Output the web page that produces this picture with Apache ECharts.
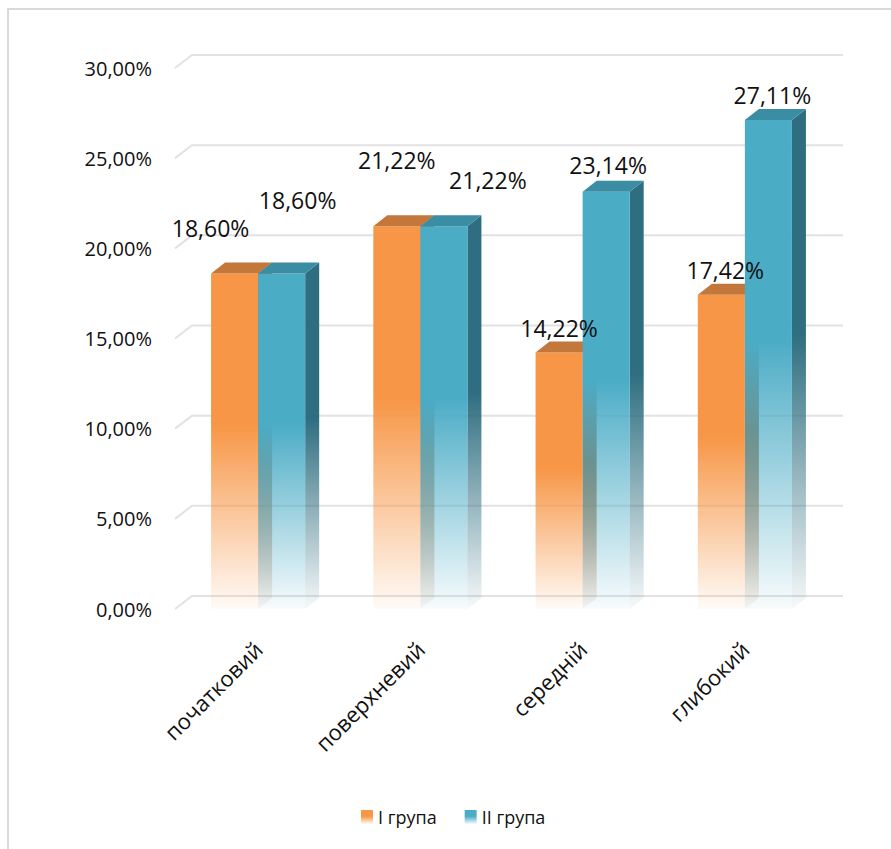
<!DOCTYPE html>
<html><head><meta charset="utf-8">
<script src="https://cdn.jsdelivr.net/npm/echarts@6/dist/echarts.min.js"></script>
<style>html,body{margin:0;padding:0;background:#fff}#c{width:891px;height:849px}</style>
</head><body><div id="c"></div>
<script>
const categories = ['початковий', 'поверхневий', 'середній', 'глибокий'];
const seriesNames = ['I група', 'II група'];
const group1 = [18.60, 21.22, 14.22, 17.42];
const group2 = [18.60, 21.22, 23.14, 27.11];
const yTicks = [0, 5, 10, 15, 20, 25, 30];

// label nudges in px (style only)
const labelNudge = [
  [[-28, -21], [-4, -41], [-4, 0], [0, 0]],
  [[12, -49], [40, -21], [-2, -2], [0, 0]]
];
const FONT = '"Open Sans", sans-serif';
const fmt = v => v.toFixed(2).replace('.', ',') + '%';
const palette = [
  { front: '#F79646', top: '#C4773B', side: '#A8602A' },
  { front: '#4BACC6', top: '#3B8DA4', side: '#2E6E80' }
];
const DX = 14, DY = 11;
function rgba(hex, a) {
  const n = parseInt(hex.slice(1), 16);
  return 'rgba(' + (n >> 16) + ',' + ((n >> 8) & 255) + ',' + (n & 255) + ',' + a + ')';
}
function grad(hex) {
  return { type: 'linear', x: 0, y: 0, x2: 0, y2: 1, colorStops: [
    { offset: 0, color: hex }, { offset: 0.45, color: hex }, { offset: 1, color: rgba(hex, 0.04) }
  ] };
}
function geom(si, api) {
  const ci = api.value(0), v = api.value(1);
  const base = api.coord([ci, 0]), top = api.coord([ci, v]);
  const band = api.size([1, 0])[0];
  const w = band * 0.29;
  const x0 = base[0] - (si === 0 ? w : 0);
  return { ci, v, w, x0, ty: top[1], by: base[1] };
}
function makeBarRender(si) {
  return function (params, api) {
    const g = geom(si, api), p = palette[si];
    const { w, x0, ty, by } = g;
    return { type: 'group', children: [
      { type: 'polygon', shape: { points: [[x0 + w, ty], [x0 + w + DX, ty - DY], [x0 + w + DX, by - DY], [x0 + w, by]] }, style: { fill: grad(p.side) } },
      { type: 'rect', shape: { x: x0, y: ty, width: w, height: by - ty }, style: { fill: grad(p.front) } },
      { type: 'polygon', shape: { points: [[x0, ty], [x0 + DX, ty - DY], [x0 + w + DX, ty - DY], [x0 + w, ty]] }, style: { fill: p.top } }
    ] };
  };
}
function makeLabelRender(si) {
  return function (params, api) {
    const g = geom(si, api);
    const nudge = labelNudge[si][g.ci];
    return { type: 'text', x: g.x0 + g.w / 2 + 4 + nudge[0], y: g.ty - 25 + nudge[1],
      style: { text: fmt(g.v), fill: '#111', fontSize: 23, fontFamily: FONT, align: 'center', verticalAlign: 'middle' } };
  };
}
function gridRender(params, api) {
  const cs = params.coordSys;
  const y = api.coord([0, api.value(1)])[1];
  return { type: 'polyline', shape: { points: [[cs.x - 2, y], [cs.x + 15, y - 13], [cs.x + cs.width + 17, y - 13]] },
    style: { stroke: '#E2E2E2', lineWidth: 2, fill: null } };
}
const chart = echarts.init(document.getElementById('c'), null, { renderer: 'svg' });
chart.setOption({
  backgroundColor: '#fff',
  animation: false,
  grid: { left: 177, right: 65, top: 68, bottom: 240 },
  graphic: [{ type: 'rect', shape: { x: 8, y: 9, width: 950, height: 950 }, style: { fill: null, stroke: '#D9D9D9', lineWidth: 2 }, z: -10 }],
  legend: {
    bottom: 18, left: 356, itemWidth: 12, itemHeight: 14, itemGap: 28, icon: 'rect',
    textStyle: { fontSize: 18, fontFamily: FONT, color: '#111' },
    data: seriesNames.map((n, i) => ({ name: n, itemStyle: { color: grad(palette[i].front) } }))
  },
  xAxis: {
    type: 'category', data: categories,
    axisLine: { show: false }, axisTick: { show: false },
    axisLabel: { rotate: 45, margin: 36, fontSize: 22, fontFamily: FONT, color: '#111' }
  },
  yAxis: {
    type: 'value', min: 0, max: 30, interval: 5,
    axisLine: { show: false }, axisTick: { show: false }, splitLine: { show: false },
    axisLabel: { margin: 25, fontSize: 20, fontFamily: FONT, color: '#111', formatter: v => fmt(v) }
  },
  series: [
    { type: 'custom', name: 'grid', silent: true, z: 0, renderItem: gridRender, data: yTicks.map(t => [0, t]) },
    { type: 'custom', name: seriesNames[0], z: 2, renderItem: makeBarRender(0), itemStyle: { color: grad(palette[0].front) }, data: group1.map((v, i) => [i, v]) },
    { type: 'custom', name: seriesNames[1], z: 3, renderItem: makeBarRender(1), itemStyle: { color: grad(palette[1].front) }, data: group2.map((v, i) => [i, v]) },
    { type: 'custom', name: 'labels1', silent: true, z: 10, renderItem: makeLabelRender(0), data: group1.map((v, i) => [i, v]) },
    { type: 'custom', name: 'labels2', silent: true, z: 10, renderItem: makeLabelRender(1), data: group2.map((v, i) => [i, v]) }
  ]
});
</script></body></html>
